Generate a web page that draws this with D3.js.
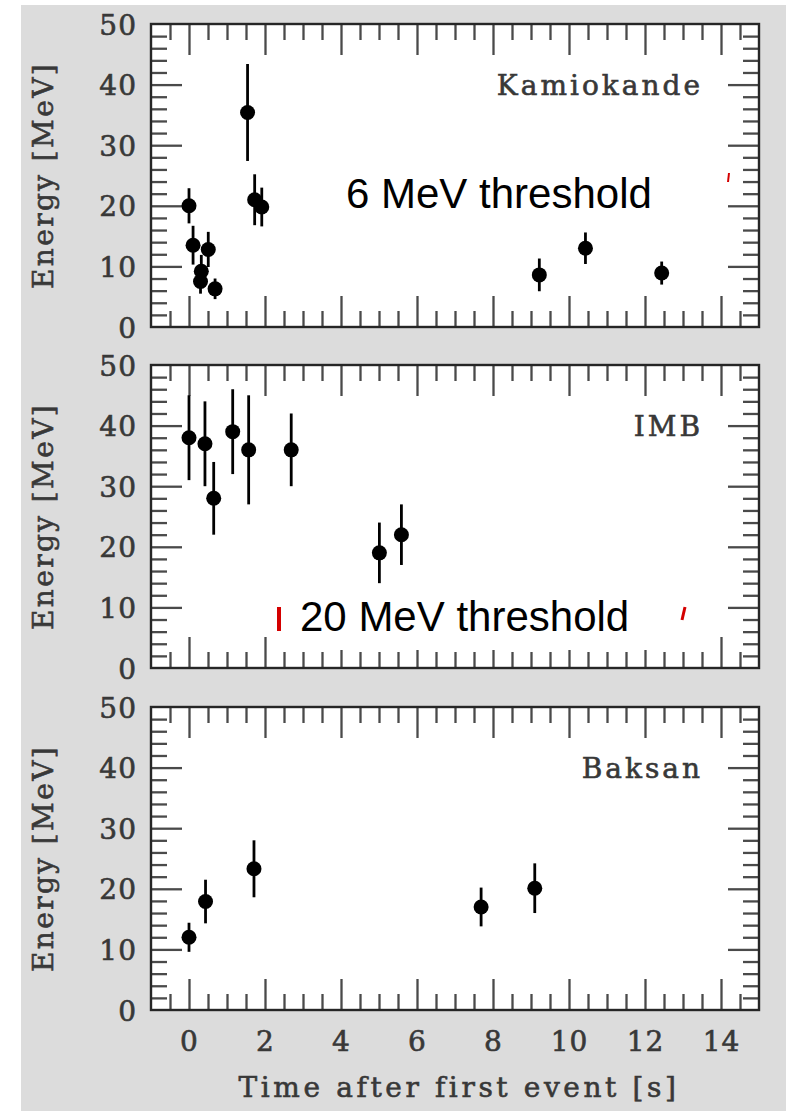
<!DOCTYPE html>
<html>
<head>
<meta charset="utf-8">
<script src="https://cdn.jsdelivr.net/npm/d3@7"></script>
<style>
    body { margin: 0; background: #fff; }
    svg { display: block; }
    .serif { font-family: "DejaVu Serif", serif; fill: #383838; stroke: #383838; stroke-width: 0.6px; }
    .sans { font-family: "Liberation Sans", Arial, sans-serif; fill: #000; }
</style>
</head>
<body>
<svg id="chart"></svg>
<script>

// Kamiokande events
const kamTime = [0.0, 0.107, 0.303, 0.324, 0.507, 0.686, 1.541, 1.728, 1.915, 9.219, 10.433, 12.439]
const kamEnergy = [20.0, 13.5, 7.5, 9.2, 12.8, 6.3, 35.4, 21.0, 19.8, 8.6, 13.0, 8.9]
const kamError = [2.9, 3.2, 2.0, 2.7, 2.9, 1.7, 8.0, 4.2, 3.2, 2.7, 2.6, 1.9]

// IMB events
const imbTime = [0.0, 0.42, 0.65, 1.15, 1.57, 2.69, 5.01, 5.59]
const imbEnergy = [38, 37, 28, 39, 36, 36, 19, 22]
const imbError = [7, 7, 6, 7, 9, 6, 5, 5]

// Baksan events
const bakTime = [0.0, 0.435, 1.71, 7.687, 9.099]
const bakEnergy = [12.0, 17.9, 23.3, 17.0, 20.1]
const bakError = [2.4, 3.6, 4.7, 3.2, 4.1]

const detectors = ['Kamiokande', 'IMB', 'Baksan']
const xTickLabels = [0, 2, 4, 6, 8, 10, 12, 14]
const yTickLabels = [0, 10, 20, 30, 40, 50]
const thresholds = ['6 MeV threshold', '20 MeV threshold']

const series = [
    {name: detectors[0], t: kamTime, e: kamEnergy, err: kamError},
    {name: detectors[1], t: imbTime, e: imbEnergy, err: imbError},
    {name: detectors[2], t: bakTime, e: bakEnergy, err: bakError}
]

const config = {
    width: 786,
    height: 1111,
    left: 151,
    panelWidth: 608,
    panelHeight: 303,
    panelTops: [24, 365, 707]
}

const svg = d3.select('#chart')
    .attr('width', config.width)
    .attr('height', config.height)

// grey page behind the figure
svg.append('rect')
    .attr('x', 21).attr('y', 5)
    .attr('width', config.width - 21).attr('height', config.height - 5)
    .attr('fill', '#dcdcdc')

const x = d3.scaleLinear().domain([-1, 15]).range([0, config.panelWidth])
const y = d3.scaleLinear().domain([0, 50]).range([config.panelHeight, 0])

const xMinor = d3.range(-0.5, 15, 0.5).filter(d => d % 2 !== 0)
const xMajor = d3.range(0, 15, 2)
const yMinor = d3.range(2, 50, 2).filter(d => d % 10 !== 0)
const yMajor = [10, 20, 30, 40]

const minorLen = 16
const majorLen = 31

function tickAxis(g, axis) {
    g.call(axis)
    g.select('.domain').remove()
    g.selectAll('.tick text').remove()
    g.selectAll('.tick line')
        .attr('stroke', '#4a4a4a')
        .attr('stroke-width', 2.3)
}

series.forEach((s, i) => {
    const h = config.panelHeight, w = config.panelWidth
    const chart = svg.append('g')
        .attr('transform', `translate(${config.left},${config.panelTops[i]})`)

    chart.append('rect')
        .attr('width', w).attr('height', h)
        .attr('fill', '#fff')

    // ticks on all four sides, pointing inward
    const bottomG = chart.append('g').attr('transform', `translate(0,${h})`)
    tickAxis(bottomG.append('g'), d3.axisBottom(x).tickValues(xMinor).tickSize(-minorLen))
    tickAxis(bottomG.append('g'), d3.axisBottom(x).tickValues(xMajor).tickSize(-majorLen))
    const topG = chart.append('g')
    tickAxis(topG.append('g'), d3.axisTop(x).tickValues(xMinor).tickSize(-minorLen))
    tickAxis(topG.append('g'), d3.axisTop(x).tickValues(xMajor).tickSize(-majorLen))
    const leftG = chart.append('g')
    tickAxis(leftG.append('g'), d3.axisLeft(y).tickValues(yMinor).tickSize(-minorLen))
    tickAxis(leftG.append('g'), d3.axisLeft(y).tickValues(yMajor).tickSize(-majorLen))
    const rightG = chart.append('g').attr('transform', `translate(${w},0)`)
    tickAxis(rightG.append('g'), d3.axisRight(y).tickValues(yMinor).tickSize(-minorLen))
    tickAxis(rightG.append('g'), d3.axisRight(y).tickValues(yMajor).tickSize(-majorLen))

    // threshold notes: white box pasted over the plot, red remains of a bracket
    if (i === 0) {
        chart.append('rect')
            .attr('x', 174).attr('y', 136).attr('width', 402).attr('height', 65)
            .attr('fill', '#fff')
        chart.append('line')
            .attr('x1', 578).attr('y1', 149).attr('x2', 577).attr('y2', 158)
            .attr('stroke', '#d40000').attr('stroke-width', 2)
        chart.append('text')
            .attr('class', 'sans')
            .attr('x', 195).attr('y', 184)
            .style('font-size', '42px')
            .text(thresholds[0])
    }
    if (i === 1) {
        chart.append('rect')
            .attr('x', 120).attr('y', 227).attr('width', 440).attr('height', 58)
            .attr('fill', '#fff')
        chart.append('line')
            .attr('x1', 128).attr('y1', 242).attr('x2', 128).attr('y2', 266)
            .attr('stroke', '#d40000').attr('stroke-width', 4)
        chart.append('line')
            .attr('x1', 534).attr('y1', 242).attr('x2', 531).attr('y2', 255)
            .attr('stroke', '#d40000').attr('stroke-width', 3)
        chart.append('text')
            .attr('class', 'sans')
            .attr('x', 149).attr('y', 266)
            .style('font-size', '42px')
            .text(thresholds[1])
    }

    chart.append('rect')
        .attr('width', w).attr('height', h)
        .attr('fill', 'none')
        .attr('stroke', '#262626')
        .attr('stroke-width', 2.4)

    // y tick labels
    const yLab = chart.append('g')
        .call(d3.axisLeft(y).tickValues(yTickLabels).tickSize(0).tickPadding(14))
    yLab.select('.domain').remove()
    yLab.selectAll('text')
        .attr('class', 'serif')
        .attr('dy', '0.36em')
        .style('font-size', '28px')
        .style('letter-spacing', '1px')

    chart.append('text')
        .attr('class', 'serif')
        .attr('transform', `translate(-98,${h / 2}) rotate(-90)`)
        .attr('text-anchor', 'middle')
        .style('font-size', '28px')
        .style('letter-spacing', '2.4px')
        .text('Energy [MeV]')

    chart.append('text')
        .attr('class', 'serif')
        .attr('x', 552).attr('y', 71)
        .attr('text-anchor', 'end')
        .style('font-size', '28px')
        .style('letter-spacing', '3px')
        .text(s.name)

    // events with error bars
    const idx = d3.range(s.t.length)
    chart.selectAll('.err')
        .data(idx)
        .join('line')
        .attr('class', 'err')
        .attr('x1', d => x(s.t[d])).attr('x2', d => x(s.t[d]))
        .attr('y1', d => y(s.e[d] - s.err[d]))
        .attr('y2', d => y(s.e[d] + s.err[d]))
        .attr('stroke', '#000')
        .attr('stroke-width', 2.8)

    chart.selectAll('.pt')
        .data(idx)
        .join('circle')
        .attr('class', 'pt')
        .attr('cx', d => x(s.t[d]))
        .attr('cy', d => y(s.e[d]))
        .attr('r', 7.5)
        .attr('fill', '#000')

    if (i === series.length - 1) {
        const xLab = chart.append('g')
            .attr('transform', `translate(0,${h})`)
            .call(d3.axisBottom(x).tickValues(xTickLabels).tickSize(0).tickPadding(21))
        xLab.select('.domain').remove()
        xLab.selectAll('text')
            .attr('class', 'serif')
            .style('font-size', '28px')
            .style('letter-spacing', '1px')

        chart.append('text')
            .attr('class', 'serif')
            .attr('x', w / 2 + 4).attr('y', h + 87)
            .attr('text-anchor', 'middle')
            .style('font-size', '28px')
            .style('letter-spacing', '3.6px')
            .text('Time after first event [s]')
    }
})

</script>
</body>
</html>
